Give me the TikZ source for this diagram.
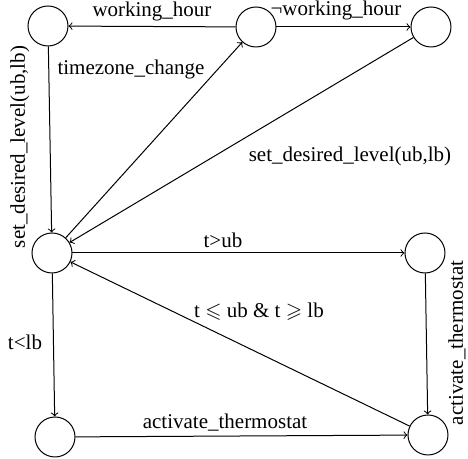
\documentclass[tikz,border=0pt]{standalone}
\usepackage{amssymb}
\usepackage{fontspec}
\setmainfont{Liberation Serif}
\usepackage{tikz}

\begin{document}
\begin{tikzpicture}[x=0.5pt, y=-0.5pt, line width=0.5pt,
  statenode/.style={circle, draw, minimum size=20pt, inner sep=0pt},
  edgelabel/.style={anchor=base, inner sep=0pt, font=\fontsize{10.5pt}{12pt}\selectfont}]
\useasboundingbox (0,0) rectangle (468,459);

\node[statenode] (work) at (48.0, 26.0) {};
\node[statenode] (zone) at (256.0, 27.0) {};
\node[statenode] (idle) at (431.0, 27.0) {};
\node[statenode] (level) at (52.0, 253.0) {};
\node[statenode] (high) at (425.0, 253.0) {};
\node[statenode] (low) at (55.0, 437.0) {};
\node[statenode] (heat) at (428.0, 435.0) {};

\draw[->] (zone) -- (work);
\draw[->] (zone) -- (idle);
\draw[->] (work) -- (level);
\draw[->] (level) -- (zone);
\draw[->] (idle) -- (level);
\draw[->] (level) -- (high);
\draw[->] (high) -- (heat);
\draw[->] (heat) -- (level);
\draw[->] (level) -- (low);
\draw[->] (low) -- (heat);

\node[edgelabel] (lworking) at (152.0, 17.0) {working\_hour};
\node[edgelabel] (lnotworking) at (336.0, 16.0) {¬working\_hour};
\node[edgelabel] (lzone) at (131.0, 75.0) {timezone\_change};
\node[edgelabel, rotate=90] (lsetleft) at (25.0, 147.0) {set\_desired\_level(ub,lb)};
\node[edgelabel] (lsetdiag) at (350.0, 162.0) {set\_desired\_level(ub,lb)};
\node[edgelabel] (lhigh) at (223.0, 248.0) {t>ub};
\node[edgelabel] (lback) at (259.0, 318.0) {t $\leqslant$ ub \& t $\geqslant$ lb};
\node[edgelabel] (llow) at (25.0, 350.0) {t<lb};
\node[edgelabel] (lheatlow) at (225.0, 429.0) {activate\_thermostat};
\node[edgelabel, rotate=90] (lheathigh) at (463.0, 343.0) {activate\_thermostat};

\end{tikzpicture}
\end{document}
